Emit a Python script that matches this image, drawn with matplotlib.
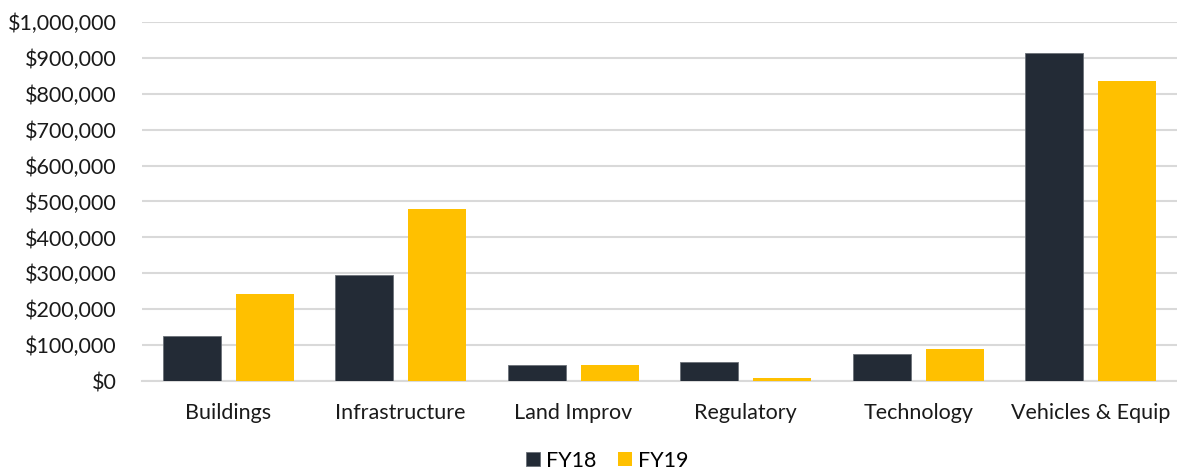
import matplotlib
matplotlib.use("Agg")
import matplotlib.pyplot as plt
import numpy as np
from matplotlib.ticker import FuncFormatter, MultipleLocator

categories = ["Buildings", "Infrastructure", "Land Improv", "Regulatory",
              "Technology", "Vehicles & Equip"]
fy18 = [125000, 295000, 44000, 53000, 74000, 913000]
fy19 = [243000, 479000, 44000, 8000, 88000, 836000]
series_names = ["FY18", "FY19"]

dark = "#232B36"
gold = "#FFC000"
grid = "#D9D9D9"

plt.rcParams["font.family"] = ["Lato", "DejaVu Sans"]

fig = plt.figure(figsize=(11.77, 4.73), dpi=100)
ax = fig.add_axes([0.1206, 0.1945, 0.8794, 0.759])

x = np.arange(len(categories))
w = 0.336
off = (w + 0.087) / 2
ax.bar(x - off, fy18, w, color=dark, edgecolor="#6B7178", linewidth=0.6,
       label=series_names[0], zorder=3)
ax.bar(x + off, fy19, w, color=gold, label=series_names[1], zorder=3)

ax.set_xlim(-0.5, len(categories) - 0.5)
ax.set_ylim(0, 1000000)
ax.yaxis.set_major_locator(MultipleLocator(100000))
ax.yaxis.set_major_formatter(FuncFormatter(lambda v, p: f"${v:,.0f}"))
ax.set_xticks(x)
ax.set_xticklabels(categories)
ax.tick_params(axis="both", length=0, labelsize=15.5, colors="#1a1a1a")
ax.tick_params(axis="x", pad=16)
ax.tick_params(axis="y", pad=18)
ax.grid(axis="y", color=grid, linewidth=1.5, zorder=0)
for s in ["top", "right", "left"]:
    ax.spines[s].set_visible(False)
ax.spines["bottom"].set_color(grid)
ax.spines["bottom"].set_linewidth(1.5)

fig.legend(loc="lower center", bbox_to_anchor=(0.516, -0.036), ncol=2,
           frameon=False, fontsize=15.5, handlelength=0.65, handleheight=0.65,
           handletextpad=0.3, columnspacing=1.0)

fig.savefig("out.png", dpi=100)
